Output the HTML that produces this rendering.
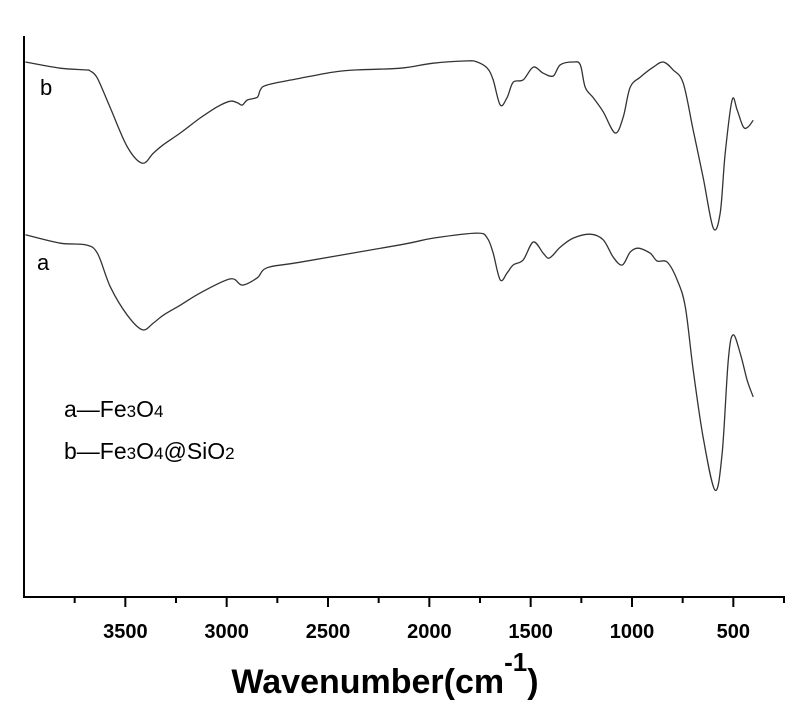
<!DOCTYPE html>
<html><head><meta charset="utf-8"><style>
html,body{margin:0;padding:0;background:#fff;}
svg{display:block;font-family:"Liberation Sans",sans-serif;}
</style></head><body>
<svg id="chart" width="800" height="717">
<g id="axes"></g>
<g id="series"></g>
<text x="40" y="95" font-size="22">b</text>
<text x="37" y="270" font-size="22">a</text>
<text x="64" y="417" font-size="23">a—Fe<tspan font-size="17">3</tspan>O<tspan font-size="17">4</tspan></text>
<text x="64" y="459" font-size="23">b—Fe<tspan font-size="17">3</tspan>O<tspan font-size="17">4</tspan>@SiO<tspan font-size="17">2</tspan></text>
<text x="385" y="693" font-size="34" font-weight="bold" text-anchor="middle">Wavenumber(cm<tspan dy="-22" font-size="26">-1</tspan><tspan dy="22">)</tspan></text>
</svg>
<script>
const xTicks = [3500, 3000, 2500, 2000, 1500, 1000, 500];
const xMinorTicks = [3750, 3250, 2750, 2250, 1750, 1250, 750, 250];
const wnB = [3993,3821,3697,3673,3638,3574,3490,3416,3362,3313,3229,3130,3046,2982,2947,2923,2898,2849,2834,2800,2637,2474,2356,2143,1981,1813,1764,1714,1685,1650,1616,1586,1537,1487,1438,1389,1354,1290,1255,1231,1191,1142,1083,1043,1009,959,895,846,797,747,698,649,599,565,540,506,481,451,427,402];
const tB = [95.7,94.6,94.3,94.1,92.8,87.5,80.5,77.6,79.4,80.9,83.0,85.7,87.7,88.7,88.4,88.0,88.9,89.4,90.7,91.6,92.8,93.9,94.3,94.6,95.5,95.9,95.7,94.6,92.5,88.0,89.4,92.1,92.5,94.8,93.7,93.2,95.2,95.7,95.2,91.2,89.3,86.8,83.0,85.9,91.2,93.0,94.8,95.7,94.3,91.9,83.5,75.1,66.0,68.7,79.4,88.9,87.1,84.1,84.1,85.3];
const wnA = [3993,3821,3697,3638,3574,3490,3416,3362,3313,3229,3130,2982,2923,2849,2800,2637,2143,1981,1764,1714,1685,1650,1616,1586,1537,1487,1438,1413,1389,1354,1290,1206,1142,1093,1048,1009,969,910,876,826,777,737,698,649,590,555,525,501,466,432,402];
const tA = [64.8,63.3,63.0,61.5,55.5,50.4,47.8,49.0,50.4,52.2,54.4,56.9,55.8,57.1,58.9,59.9,63.0,64.2,65.1,64.2,61.5,56.7,58.0,59.4,60.3,63.5,61.5,60.6,61.2,62.6,64.2,64.9,63.9,60.8,59.4,61.7,62.4,61.5,60.1,59.9,56.7,51.9,40.6,28.6,19.1,25.8,42.4,46.9,43.6,38.8,35.8];

const NS = "http://www.w3.org/2000/svg";
const X0 = 24, X1 = 784, Y0 = 597, YT = 36;
const W0 = 4000, W1 = 250;
function xs(w){ return X0 + (W0 - w) / (W0 - W1) * (X1 - X0); }
function ys(v){ return Y0 - v * 5.59; }
function mk(tag, attrs, parent){ const e = document.createElementNS(NS, tag); for (const k in attrs) e.setAttribute(k, attrs[k]); parent.appendChild(e); return e; }

const axes = document.getElementById('axes');
let l = mk('line', {x1:X0, y1:YT, x2:X0, y2:Y0+1, stroke:'#000', 'stroke-width':2}, axes);


l = mk('line', {x1:X0-1, y1:Y0, x2:X1+1, y2:Y0, stroke:'#000', 'stroke-width':2}, axes);


xTicks.forEach(t => {
  const tk = mk('line', {x1:xs(t), y1:Y0, x2:xs(t), y2:Y0+10, stroke:'#000', 'stroke-width':2}, axes);
  
  
  const tx = mk('text', {x:xs(t), y:Y0+41, 'font-size':20, 'font-weight':'bold', 'text-anchor':'middle'}, axes);
  tx.textContent = t;
  
  
});
xMinorTicks.forEach(t => {
  const tk = mk('line', {x1:xs(t), y1:Y0, x2:xs(t), y2:Y0+6, stroke:'#000', 'stroke-width':2}, axes);
  
  
});

const sg = document.getElementById('series');
function draw(wn, t, name){
  const P = wn.map((w,i) => [xs(w), ys(t[i])]);
  let d = 'M' + P[0][0].toFixed(1) + ',' + P[0][1].toFixed(1);
  for (let i = 0; i < P.length - 1; i++) {
    const p0 = P[Math.max(0, i-1)], p1 = P[i], p2 = P[i+1], p3 = P[Math.min(P.length-1, i+2)];
    const c1x = p1[0] + (p2[0]-p0[0])/6, c1y = p1[1] + (p2[1]-p0[1])/6;
    const c2x = p2[0] - (p3[0]-p1[0])/6, c2y = p2[1] - (p3[1]-p1[1])/6;
    d += ' C' + c1x.toFixed(1) + ',' + c1y.toFixed(1) + ' ' + c2x.toFixed(1) + ',' + c2y.toFixed(1) + ' ' + p2[0].toFixed(1) + ',' + p2[1].toFixed(1);
  }
  const p = mk('path', {d:d, fill:'none', stroke:'#333', 'stroke-width':1.3, 'stroke-linejoin':'round'}, sg);
  
  
}
draw(wnB, tB, 'spectrum-b-fe3o4-sio2');
draw(wnA, tA, 'spectrum-a-fe3o4');
</script>
</body></html>
